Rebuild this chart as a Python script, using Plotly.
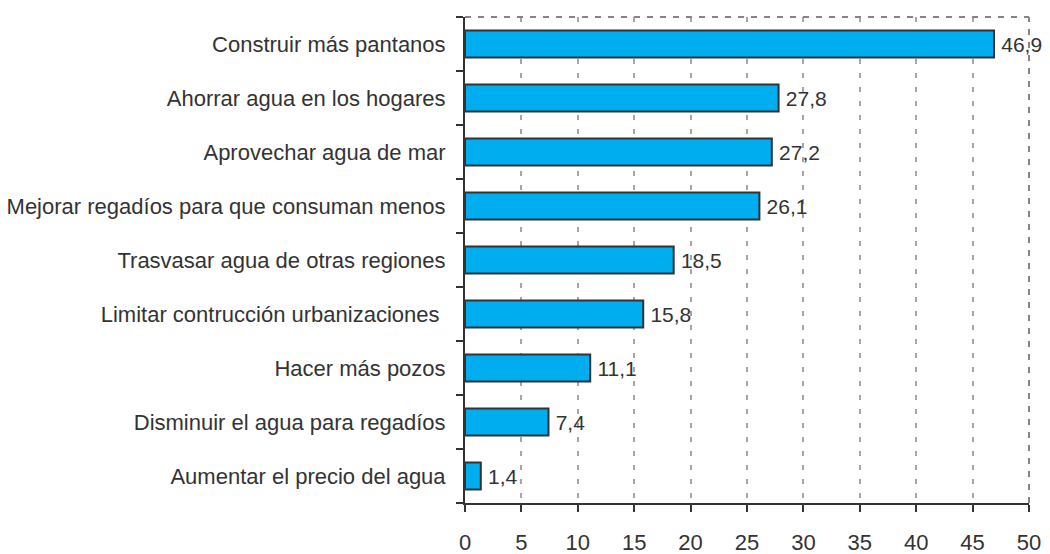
import plotly.graph_objects as go

categories = [
    "Construir más pantanos",
    "Ahorrar agua en los hogares",
    "Aprovechar agua de mar",
    "Mejorar regadíos para que consuman menos",
    "Trasvasar agua de otras regiones",
    "Limitar contrucción urbanizaciones\u00a0",
    "Hacer más pozos",
    "Disminuir el agua para regadíos",
    "Aumentar el precio del agua",
]
values = [46.9, 27.8, 27.2, 26.1, 18.5, 15.8, 11.1, 7.4, 1.4]
x_ticks = [0, 5, 10, 15, 20, 25, 30, 35, 40, 45, 50]

labels = ["\u2009" + f"{v:.1f}".replace(".", ",") for v in values]

FONT = "Liberation Sans, Arial, sans-serif"
TXT = "#333333"

fig = go.Figure(
    go.Bar(
        x=values,
        y=categories,
        orientation="h",
        width=0.5,
        marker=dict(color="#00ADEF", line=dict(color="#333333", width=2)),
        text=labels,
        textposition="outside",
        cliponaxis=False,
        textfont=dict(family=FONT, size=21, color=TXT),
    )
)

fig.update_layout(
    width=1042,
    height=554,
    margin=dict(l=457, r=21, t=9, b=59),
    paper_bgcolor="white",
    plot_bgcolor="white",
    showlegend=False,
    bargap=0.5,
    font=dict(family=FONT, size=22, color=TXT),
    xaxis=dict(
        range=[0, 50],
        automargin=False,
        tickvals=x_ticks,
        ticktext=[str(t) for t in x_ticks],
        showgrid=True,
        gridcolor="#aca4a4",
        griddash="5px,9px",
        gridwidth=1.5,
        showline=True,
        linecolor="#333333",
        linewidth=2,
        ticks="outside",
        ticklen=7,
        tickwidth=2,
        tickcolor="#333333",
        ticklabelstandoff=12,
        zeroline=False,
        tickfont=dict(family=FONT, size=22, color=TXT),
    ),
    yaxis=dict(
        categoryorder="array",
        categoryarray=categories[::-1],
        automargin=False,
        showgrid=False,
        showline=True,
        linecolor="#333333",
        linewidth=2,
        ticks="outside",
        tickson="boundaries",
        ticklen=7,
        tickwidth=2,
        tickcolor="#333333",
        ticklabelstandoff=13,
        tickfont=dict(family=FONT, size=22, color=TXT),
    ),
    shapes=[
        dict(type="line", xref="paper", yref="paper", x0=0, x1=1, y0=1, y1=1,
             line=dict(color="#8c8282", width=2, dash="6px,7px")),
        dict(type="line", xref="paper", yref="paper", x0=1, x1=1, y0=0, y1=1,
             line=dict(color="#8c8282", width=2, dash="6px,7px")),
    ],
)

fig.write_html("out.html")
